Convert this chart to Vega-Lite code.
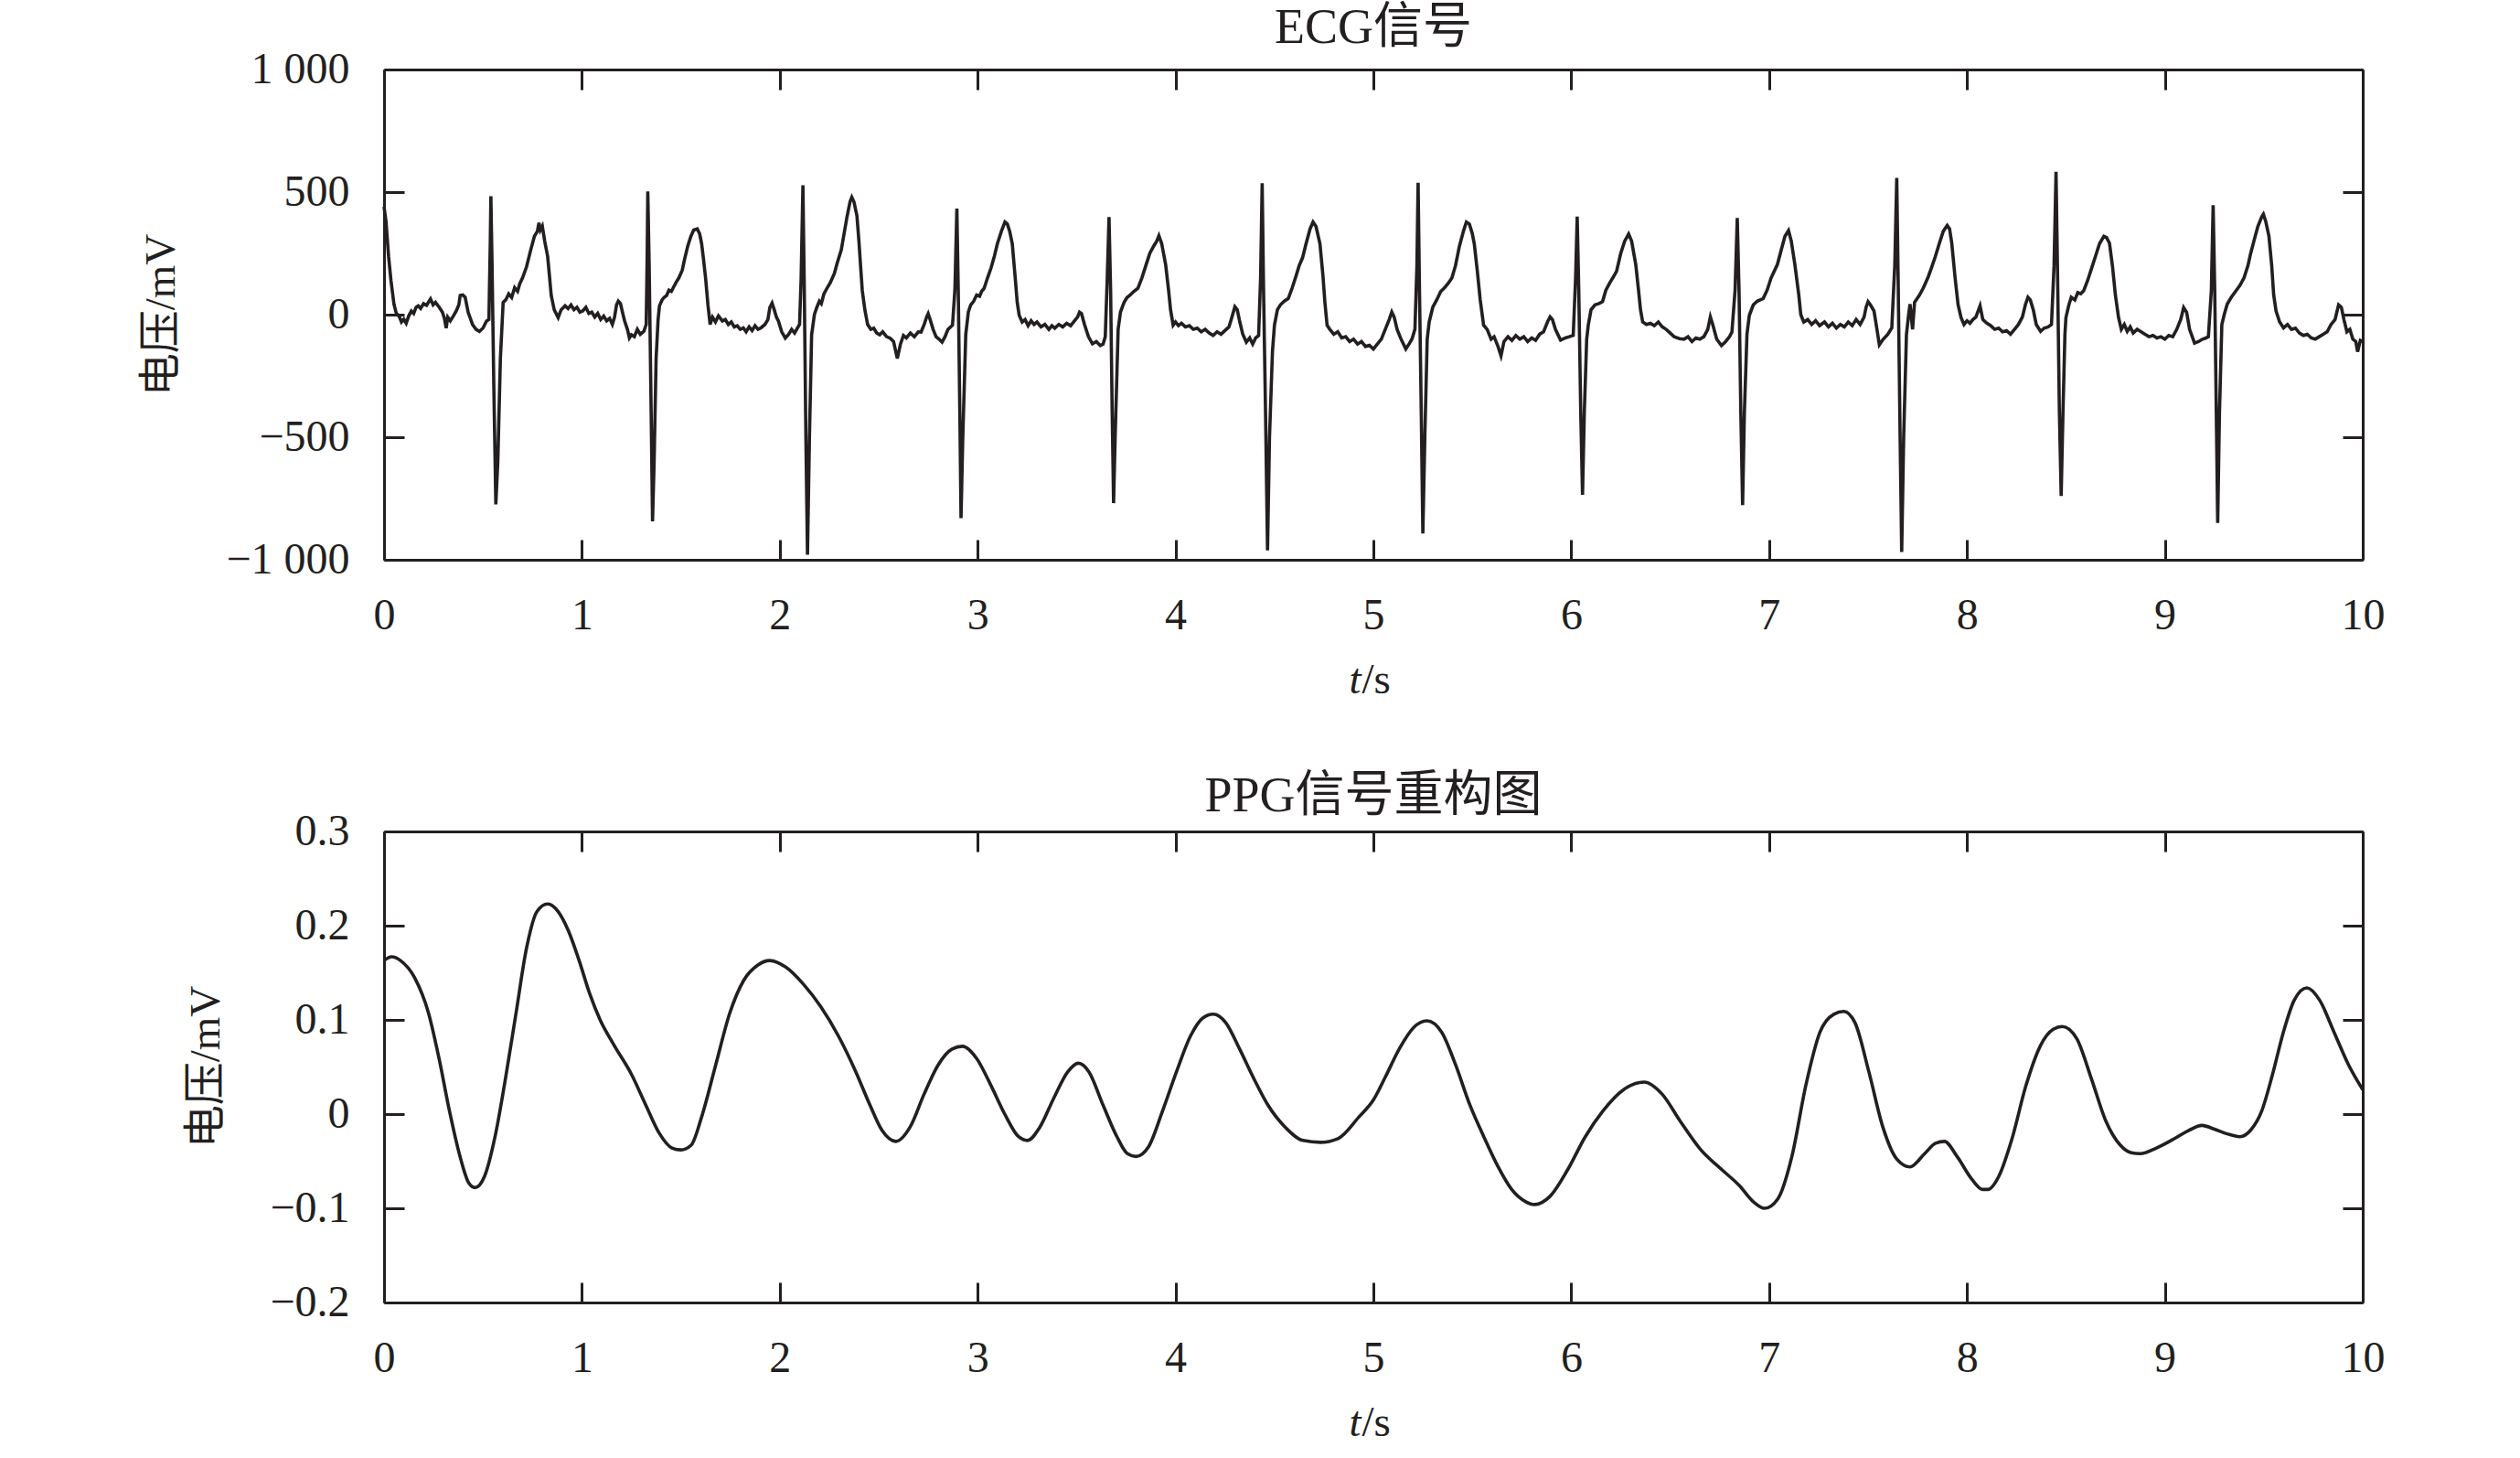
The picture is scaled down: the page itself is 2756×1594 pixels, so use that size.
{
  "$schema": "https://vega.github.io/schema/vega-lite/v6.json",
  "autosize": {"type": "none"},
  "padding": {"left": 420, "top": 76, "right": 2336, "bottom": 1518},
  "background": "white",
  "config": {
    "view": {"stroke": null},
    "axis": {
      "labelFont": "Liberation Serif, Noto Sans CJK SC",
      "titleFont": "Liberation Serif, Noto Sans CJK SC",
      "labelFontSize": 48,
      "titleFontSize": 47,
      "titleFontWeight": "normal",
      "labelColor": "#231f20",
      "titleColor": "#231f20",
      "domainColor": "#231f20",
      "domainWidth": 3,
      "tickColor": "#231f20",
      "tickWidth": 3,
      "grid": false,
      "labelFlush": false,
      "labelOverlap": false
    },
    "title": {
      "font": "Liberation Serif, Noto Sans CJK SC",
      "fontSize": 54,
      "fontWeight": "normal",
      "color": "#231f20",
      "anchor": "middle",
      "baseline": "alphabetic"
    }
  },
  "datasets": {
    "ecg": [
      {"t":0.000,"v":440},{"t":0.010,"v":380},{"t":0.023,"v":237},{"t":0.035,"v":140},{"t":0.050,"v":43},{"t":0.062,"v":5},{"t":0.076,"v":-6},{"t":0.088,"v":-30},{"t":0.100,"v":-18},{"t":0.112,"v":-35},{"t":0.125,"v":-5},{"t":0.138,"v":15},{"t":0.150,"v":5},{"t":0.162,"v":30},{"t":0.173,"v":36},{"t":0.185,"v":25},{"t":0.200,"v":45},{"t":0.215,"v":38},{"t":0.228,"v":55},{"t":0.235,"v":64},{"t":0.248,"v":40},{"t":0.260,"v":50},{"t":0.280,"v":29},{"t":0.295,"v":10},{"t":0.305,"v":-15},{"t":0.314,"v":-55},{"t":0.322,"v":-10},{"t":0.335,"v":-25},{"t":0.350,"v":-6},{"t":0.365,"v":15},{"t":0.378,"v":40},{"t":0.385,"v":78},{"t":0.398,"v":80},{"t":0.410,"v":71},{"t":0.425,"v":10},{"t":0.447,"v":-40},{"t":0.465,"v":-60},{"t":0.482,"v":-68},{"t":0.500,"v":-55},{"t":0.518,"v":-26},{"t":0.530,"v":-20},{"t":0.537,"v":300},{"t":0.540,"v":483},{"t":0.546,"v":200},{"t":0.555,"v":-300},{"t":0.565,"v":-774},{"t":0.575,"v":-600},{"t":0.588,"v":-179},{"t":0.602,"v":50},{"t":0.615,"v":60},{"t":0.630,"v":85},{"t":0.645,"v":70},{"t":0.660,"v":110},{"t":0.675,"v":95},{"t":0.686,"v":126},{"t":0.700,"v":150},{"t":0.720,"v":195},{"t":0.740,"v":260},{"t":0.760,"v":320},{"t":0.775,"v":340},{"t":0.783,"v":375},{"t":0.790,"v":345},{"t":0.800,"v":361},{"t":0.812,"v":300},{"t":0.827,"v":237},{"t":0.837,"v":150},{"t":0.845,"v":78},{"t":0.860,"v":20},{"t":0.880,"v":-12},{"t":0.895,"v":20},{"t":0.915,"v":36},{"t":0.930,"v":25},{"t":0.945,"v":40},{"t":0.960,"v":20},{"t":0.975,"v":30},{"t":0.990,"v":10},{"t":1.004,"v":15},{"t":1.020,"v":30},{"t":1.035,"v":5},{"t":1.050,"v":10},{"t":1.065,"v":-10},{"t":1.080,"v":5},{"t":1.095,"v":-20},{"t":1.110,"v":-6},{"t":1.125,"v":-25},{"t":1.140,"v":-15},{"t":1.154,"v":-40},{"t":1.165,"v":-10},{"t":1.175,"v":40},{"t":1.184,"v":55},{"t":1.195,"v":45},{"t":1.205,"v":10},{"t":1.216,"v":-26},{"t":1.230,"v":-60},{"t":1.240,"v":-95},{"t":1.250,"v":-82},{"t":1.265,"v":-90},{"t":1.280,"v":-60},{"t":1.295,"v":-80},{"t":1.313,"v":-68},{"t":1.325,"v":-40},{"t":1.330,"v":250},{"t":1.333,"v":503},{"t":1.340,"v":200},{"t":1.350,"v":-400},{"t":1.357,"v":-843},{"t":1.365,"v":-600},{"t":1.375,"v":-179},{"t":1.385,"v":-20},{"t":1.392,"v":36},{"t":1.405,"v":60},{"t":1.415,"v":70},{"t":1.428,"v":78},{"t":1.440,"v":100},{"t":1.452,"v":95},{"t":1.463,"v":112},{"t":1.475,"v":130},{"t":1.490,"v":150},{"t":1.507,"v":181},{"t":1.520,"v":230},{"t":1.535,"v":280},{"t":1.551,"v":320},{"t":1.565,"v":345},{"t":1.583,"v":350},{"t":1.595,"v":330},{"t":1.605,"v":290},{"t":1.613,"v":237},{"t":1.625,"v":150},{"t":1.637,"v":40},{"t":1.648,"v":-40},{"t":1.660,"v":-10},{"t":1.675,"v":-30},{"t":1.690,"v":-5},{"t":1.710,"v":-26},{"t":1.725,"v":-20},{"t":1.740,"v":-40},{"t":1.755,"v":-30},{"t":1.770,"v":-50},{"t":1.785,"v":-45},{"t":1.800,"v":-60},{"t":1.816,"v":-54},{"t":1.830,"v":-70},{"t":1.845,"v":-50},{"t":1.860,"v":-65},{"t":1.875,"v":-45},{"t":1.890,"v":-60},{"t":1.905,"v":-54},{"t":1.925,"v":-40},{"t":1.940,"v":-20},{"t":1.950,"v":30},{"t":1.961,"v":47},{"t":1.972,"v":20},{"t":1.983,"v":-10},{"t":1.993,"v":-26},{"t":2.010,"v":-70},{"t":2.028,"v":-96},{"t":2.045,"v":-80},{"t":2.060,"v":-60},{"t":2.075,"v":-75},{"t":2.090,"v":-54},{"t":2.100,"v":-40},{"t":2.108,"v":150},{"t":2.117,"v":528},{"t":2.124,"v":100},{"t":2.132,"v":-500},{"t":2.140,"v":-979},{"t":2.150,"v":-500},{"t":2.161,"v":-82},{"t":2.175,"v":0},{"t":2.187,"v":29},{"t":2.200,"v":55},{"t":2.210,"v":45},{"t":2.223,"v":84},{"t":2.240,"v":110},{"t":2.255,"v":130},{"t":2.276,"v":168},{"t":2.290,"v":210},{"t":2.311,"v":265},{"t":2.325,"v":330},{"t":2.340,"v":400},{"t":2.355,"v":460},{"t":2.364,"v":479},{"t":2.375,"v":460},{"t":2.390,"v":403},{"t":2.400,"v":300},{"t":2.410,"v":180},{"t":2.417,"v":98},{"t":2.430,"v":20},{"t":2.444,"v":-40},{"t":2.460,"v":-60},{"t":2.475,"v":-55},{"t":2.490,"v":-75},{"t":2.505,"v":-82},{"t":2.520,"v":-70},{"t":2.540,"v":-90},{"t":2.558,"v":-96},{"t":2.575,"v":-110},{"t":2.594,"v":-179},{"t":2.610,"v":-120},{"t":2.625,"v":-85},{"t":2.640,"v":-95},{"t":2.660,"v":-75},{"t":2.680,"v":-90},{"t":2.700,"v":-70},{"t":2.714,"v":-71},{"t":2.730,"v":-40},{"t":2.742,"v":-10},{"t":2.750,"v":4},{"t":2.760,"v":-20},{"t":2.775,"v":-60},{"t":2.790,"v":-90},{"t":2.805,"v":-100},{"t":2.820,"v":-112},{"t":2.835,"v":-90},{"t":2.850,"v":-60},{"t":2.873,"v":-43},{"t":2.885,"v":100},{"t":2.895,"v":433},{"t":2.902,"v":100},{"t":2.910,"v":-400},{"t":2.916,"v":-830},{"t":2.925,"v":-500},{"t":2.940,"v":-80},{"t":2.953,"v":11},{"t":2.965,"v":40},{"t":2.980,"v":55},{"t":2.995,"v":80},{"t":3.010,"v":75},{"t":3.020,"v":95},{"t":3.033,"v":108},{"t":3.050,"v":150},{"t":3.068,"v":191},{"t":3.085,"v":240},{"t":3.100,"v":290},{"t":3.120,"v":340},{"t":3.138,"v":378},{"t":3.150,"v":370},{"t":3.162,"v":340},{"t":3.175,"v":289},{"t":3.190,"v":150},{"t":3.200,"v":50},{"t":3.210,"v":-3},{"t":3.225,"v":-30},{"t":3.240,"v":-20},{"t":3.255,"v":-45},{"t":3.270,"v":-25},{"t":3.285,"v":-40},{"t":3.300,"v":-30},{"t":3.320,"v":-50},{"t":3.340,"v":-40},{"t":3.360,"v":-60},{"t":3.375,"v":-45},{"t":3.390,"v":-55},{"t":3.410,"v":-40},{"t":3.430,"v":-50},{"t":3.450,"v":-35},{"t":3.470,"v":-45},{"t":3.490,"v":-25},{"t":3.505,"v":-10},{"t":3.515,"v":10},{"t":3.525,"v":4},{"t":3.540,"v":-40},{"t":3.560,"v":-90},{"t":3.580,"v":-119},{"t":3.600,"v":-110},{"t":3.620,"v":-126},{"t":3.634,"v":-120},{"t":3.645,"v":-90},{"t":3.655,"v":150},{"t":3.664,"v":398},{"t":3.672,"v":100},{"t":3.680,"v":-400},{"t":3.687,"v":-769},{"t":3.695,"v":-500},{"t":3.710,"v":-60},{"t":3.722,"v":11},{"t":3.740,"v":50},{"t":3.755,"v":70},{"t":3.770,"v":80},{"t":3.790,"v":95},{"t":3.810,"v":108},{"t":3.830,"v":150},{"t":3.850,"v":200},{"t":3.870,"v":250},{"t":3.890,"v":280},{"t":3.905,"v":300},{"t":3.916,"v":322},{"t":3.930,"v":290},{"t":3.950,"v":205},{"t":3.965,"v":100},{"t":3.975,"v":20},{"t":3.988,"v":-43},{"t":4.000,"v":-30},{"t":4.015,"v":-45},{"t":4.030,"v":-35},{"t":4.050,"v":-50},{"t":4.070,"v":-45},{"t":4.090,"v":-60},{"t":4.110,"v":-55},{"t":4.130,"v":-70},{"t":4.150,"v":-60},{"t":4.170,"v":-75},{"t":4.190,"v":-85},{"t":4.210,"v":-70},{"t":4.230,"v":-80},{"t":4.250,"v":-65},{"t":4.270,"v":-50},{"t":4.285,"v":-10},{"t":4.300,"v":32},{"t":4.312,"v":20},{"t":4.325,"v":-30},{"t":4.340,"v":-80},{"t":4.358,"v":-112},{"t":4.375,"v":-95},{"t":4.390,"v":-120},{"t":4.405,"v":-95},{"t":4.420,"v":-85},{"t":4.430,"v":150},{"t":4.438,"v":536},{"t":4.445,"v":100},{"t":4.455,"v":-400},{"t":4.465,"v":-962},{"t":4.475,"v":-500},{"t":4.490,"v":-150},{"t":4.500,"v":-43},{"t":4.515,"v":20},{"t":4.530,"v":40},{"t":4.550,"v":55},{"t":4.570,"v":66},{"t":4.590,"v":110},{"t":4.610,"v":160},{"t":4.625,"v":200},{"t":4.642,"v":232},{"t":4.660,"v":290},{"t":4.680,"v":350},{"t":4.695,"v":378},{"t":4.710,"v":360},{"t":4.730,"v":289},{"t":4.745,"v":160},{"t":4.755,"v":50},{"t":4.766,"v":-43},{"t":4.780,"v":-60},{"t":4.800,"v":-80},{"t":4.820,"v":-70},{"t":4.840,"v":-95},{"t":4.860,"v":-90},{"t":4.880,"v":-110},{"t":4.900,"v":-100},{"t":4.920,"v":-120},{"t":4.940,"v":-110},{"t":4.960,"v":-130},{"t":4.980,"v":-125},{"t":5.000,"v":-140},{"t":5.020,"v":-120},{"t":5.040,"v":-100},{"t":5.060,"v":-60},{"t":5.080,"v":-20},{"t":5.093,"v":11},{"t":5.105,"v":-10},{"t":5.120,"v":-60},{"t":5.140,"v":-100},{"t":5.164,"v":-140},{"t":5.180,"v":-120},{"t":5.195,"v":-100},{"t":5.210,"v":-60},{"t":5.220,"v":200},{"t":5.226,"v":538},{"t":5.233,"v":100},{"t":5.242,"v":-400},{"t":5.250,"v":-893},{"t":5.260,"v":-500},{"t":5.272,"v":-100},{"t":5.282,"v":-30},{"t":5.300,"v":30},{"t":5.320,"v":60},{"t":5.340,"v":94},{"t":5.360,"v":110},{"t":5.380,"v":130},{"t":5.397,"v":150},{"t":5.415,"v":200},{"t":5.435,"v":280},{"t":5.455,"v":340},{"t":5.470,"v":378},{"t":5.485,"v":370},{"t":5.500,"v":330},{"t":5.510,"v":289},{"t":5.525,"v":180},{"t":5.540,"v":60},{"t":5.557,"v":-43},{"t":5.575,"v":-60},{"t":5.595,"v":-100},{"t":5.610,"v":-90},{"t":5.630,"v":-130},{"t":5.645,"v":-168},{"t":5.660,"v":-110},{"t":5.680,"v":-90},{"t":5.700,"v":-105},{"t":5.720,"v":-85},{"t":5.740,"v":-100},{"t":5.760,"v":-90},{"t":5.780,"v":-110},{"t":5.800,"v":-95},{"t":5.820,"v":-105},{"t":5.840,"v":-80},{"t":5.860,"v":-70},{"t":5.880,"v":-30},{"t":5.893,"v":-9},{"t":5.905,"v":-20},{"t":5.920,"v":-60},{"t":5.946,"v":-104},{"t":5.970,"v":-95},{"t":5.990,"v":-90},{"t":6.010,"v":-85},{"t":6.022,"v":150},{"t":6.030,"v":400},{"t":6.038,"v":100},{"t":6.048,"v":-400},{"t":6.057,"v":-735},{"t":6.066,"v":-400},{"t":6.078,"v":-100},{"t":6.086,"v":-43},{"t":6.100,"v":20},{"t":6.120,"v":40},{"t":6.140,"v":45},{"t":6.158,"v":53},{"t":6.175,"v":100},{"t":6.195,"v":130},{"t":6.210,"v":150},{"t":6.229,"v":177},{"t":6.250,"v":250},{"t":6.270,"v":300},{"t":6.290,"v":329},{"t":6.305,"v":300},{"t":6.326,"v":205},{"t":6.340,"v":100},{"t":6.350,"v":20},{"t":6.361,"v":-30},{"t":6.380,"v":-40},{"t":6.400,"v":-35},{"t":6.420,"v":-45},{"t":6.440,"v":-30},{"t":6.460,"v":-50},{"t":6.480,"v":-60},{"t":6.500,"v":-75},{"t":6.520,"v":-90},{"t":6.547,"v":-98},{"t":6.570,"v":-100},{"t":6.590,"v":-90},{"t":6.610,"v":-110},{"t":6.630,"v":-95},{"t":6.650,"v":-100},{"t":6.670,"v":-90},{"t":6.690,"v":-60},{"t":6.703,"v":-9},{"t":6.715,"v":-40},{"t":6.735,"v":-100},{"t":6.759,"v":-126},{"t":6.780,"v":-110},{"t":6.800,"v":-90},{"t":6.812,"v":-71},{"t":6.828,"v":100},{"t":6.839,"v":394},{"t":6.848,"v":100},{"t":6.857,"v":-400},{"t":6.866,"v":-777},{"t":6.875,"v":-400},{"t":6.888,"v":-80},{"t":6.900,"v":-3},{"t":6.920,"v":40},{"t":6.940,"v":55},{"t":6.970,"v":66},{"t":6.990,"v":100},{"t":7.010,"v":150},{"t":7.042,"v":205},{"t":7.060,"v":260},{"t":7.080,"v":320},{"t":7.098,"v":343},{"t":7.112,"v":300},{"t":7.130,"v":205},{"t":7.150,"v":80},{"t":7.160,"v":0},{"t":7.175,"v":-30},{"t":7.195,"v":-20},{"t":7.215,"v":-40},{"t":7.235,"v":-25},{"t":7.255,"v":-45},{"t":7.280,"v":-30},{"t":7.300,"v":-50},{"t":7.320,"v":-35},{"t":7.340,"v":-55},{"t":7.360,"v":-40},{"t":7.380,"v":-50},{"t":7.400,"v":-30},{"t":7.420,"v":-45},{"t":7.440,"v":-20},{"t":7.460,"v":-40},{"t":7.480,"v":-10},{"t":7.490,"v":30},{"t":7.500,"v":53},{"t":7.512,"v":40},{"t":7.530,"v":15},{"t":7.545,"v":-60},{"t":7.557,"v":-123},{"t":7.575,"v":-102},{"t":7.600,"v":-80},{"t":7.620,"v":-54},{"t":7.635,"v":200},{"t":7.645,"v":558},{"t":7.652,"v":150},{"t":7.662,"v":-500},{"t":7.670,"v":-968},{"t":7.680,"v":-500},{"t":7.694,"v":-82},{"t":7.705,"v":0},{"t":7.712,"v":43},{"t":7.725,"v":-60},{"t":7.735,"v":50},{"t":7.760,"v":80},{"t":7.780,"v":110},{"t":7.804,"v":154},{"t":7.820,"v":190},{"t":7.840,"v":237},{"t":7.860,"v":290},{"t":7.880,"v":340},{"t":7.900,"v":364},{"t":7.912,"v":350},{"t":7.923,"v":292},{"t":7.940,"v":150},{"t":7.955,"v":40},{"t":7.970,"v":-12},{"t":7.985,"v":-40},{"t":8.000,"v":-25},{"t":8.015,"v":-35},{"t":8.030,"v":-20},{"t":8.045,"v":-10},{"t":8.066,"v":36},{"t":8.080,"v":-20},{"t":8.100,"v":-35},{"t":8.120,"v":-45},{"t":8.140,"v":-60},{"t":8.160,"v":-55},{"t":8.180,"v":-70},{"t":8.200,"v":-65},{"t":8.220,"v":-80},{"t":8.240,"v":-60},{"t":8.260,"v":-40},{"t":8.280,"v":-10},{"t":8.295,"v":40},{"t":8.308,"v":71},{"t":8.320,"v":60},{"t":8.335,"v":20},{"t":8.350,"v":-40},{"t":8.372,"v":-68},{"t":8.390,"v":-55},{"t":8.410,"v":-50},{"t":8.427,"v":-40},{"t":8.440,"v":200},{"t":8.450,"v":583},{"t":8.458,"v":150},{"t":8.467,"v":-400},{"t":8.476,"v":-740},{"t":8.485,"v":-400},{"t":8.495,"v":-80},{"t":8.500,"v":-12},{"t":8.515,"v":40},{"t":8.527,"v":71},{"t":8.545,"v":60},{"t":8.560,"v":90},{"t":8.575,"v":85},{"t":8.590,"v":98},{"t":8.610,"v":140},{"t":8.630,"v":190},{"t":8.650,"v":240},{"t":8.670,"v":290},{"t":8.692,"v":320},{"t":8.705,"v":315},{"t":8.720,"v":292},{"t":8.735,"v":200},{"t":8.750,"v":80},{"t":8.766,"v":-12},{"t":8.780,"v":-60},{"t":8.795,"v":-40},{"t":8.810,"v":-68},{"t":8.825,"v":-50},{"t":8.840,"v":-75},{"t":8.860,"v":-60},{"t":8.880,"v":-70},{"t":8.900,"v":-80},{"t":8.920,"v":-90},{"t":8.940,"v":-85},{"t":8.960,"v":-95},{"t":8.980,"v":-90},{"t":9.000,"v":-100},{"t":9.020,"v":-85},{"t":9.040,"v":-90},{"t":9.060,"v":-60},{"t":9.080,"v":-20},{"t":9.095,"v":29},{"t":9.110,"v":10},{"t":9.125,"v":-60},{"t":9.150,"v":-116},{"t":9.170,"v":-110},{"t":9.190,"v":-100},{"t":9.205,"v":-96},{"t":9.220,"v":-90},{"t":9.235,"v":100},{"t":9.244,"v":447},{"t":9.252,"v":100},{"t":9.260,"v":-400},{"t":9.267,"v":-850},{"t":9.276,"v":-400},{"t":9.288,"v":-40},{"t":9.300,"v":0},{"t":9.315,"v":43},{"t":9.335,"v":70},{"t":9.360,"v":98},{"t":9.380,"v":120},{"t":9.400,"v":150},{"t":9.420,"v":200},{"t":9.434,"v":251},{"t":9.450,"v":300},{"t":9.470,"v":360},{"t":9.490,"v":400},{"t":9.498,"v":410},{"t":9.510,"v":380},{"t":9.526,"v":320},{"t":9.540,"v":200},{"t":9.550,"v":80},{"t":9.562,"v":15},{"t":9.580,"v":-30},{"t":9.600,"v":-54},{"t":9.620,"v":-40},{"t":9.640,"v":-60},{"t":9.660,"v":-55},{"t":9.680,"v":-75},{"t":9.700,"v":-85},{"t":9.720,"v":-80},{"t":9.740,"v":-95},{"t":9.760,"v":-100},{"t":9.780,"v":-90},{"t":9.800,"v":-80},{"t":9.820,"v":-70},{"t":9.840,"v":-40},{"t":9.860,"v":-20},{"t":9.878,"v":40},{"t":9.892,"v":30},{"t":9.905,"v":-20},{"t":9.920,"v":-70},{"t":9.935,"v":-60},{"t":9.950,"v":-100},{"t":9.965,"v":-110},{"t":9.974,"v":-151},{"t":9.988,"v":-105},{"t":10.000,"v":-110}
    ],
    "ppg": [
      {"t":0.000,"v":0.163},{"t":0.039,"v":0.167},{"t":0.083,"v":0.163},{"t":0.154,"v":0.145},{"t":0.225,"v":0.107},{"t":0.278,"v":0.059},{"t":0.331,"v":0.003},{"t":0.384,"v":-0.045},{"t":0.428,"v":-0.073},{"t":0.460,"v":-0.078},{"t":0.508,"v":-0.066},{"t":0.561,"v":-0.024},{"t":0.614,"v":0.038},{"t":0.667,"v":0.107},{"t":0.720,"v":0.176},{"t":0.773,"v":0.215},{"t":0.827,"v":0.223},{"t":0.880,"v":0.215},{"t":0.933,"v":0.194},{"t":0.986,"v":0.163},{"t":1.039,"v":0.128},{"t":1.092,"v":0.100},{"t":1.163,"v":0.073},{"t":1.251,"v":0.042},{"t":1.322,"v":0.010},{"t":1.393,"v":-0.021},{"t":1.455,"v":-0.036},{"t":1.500,"v":-0.038},{"t":1.552,"v":-0.033},{"t":1.605,"v":-0.003},{"t":1.676,"v":0.052},{"t":1.747,"v":0.107},{"t":1.818,"v":0.142},{"t":1.888,"v":0.158},{"t":1.950,"v":0.163},{"t":2.030,"v":0.156},{"t":2.119,"v":0.138},{"t":2.207,"v":0.114},{"t":2.296,"v":0.083},{"t":2.384,"v":0.045},{"t":2.455,"v":0.010},{"t":2.516,"v":-0.017},{"t":2.587,"v":-0.029},{"t":2.658,"v":-0.014},{"t":2.729,"v":0.021},{"t":2.800,"v":0.052},{"t":2.871,"v":0.069},{"t":2.924,"v":0.072},{"t":2.995,"v":0.059},{"t":3.066,"v":0.031},{"t":3.137,"v":0.000},{"t":3.207,"v":-0.024},{"t":3.252,"v":-0.028},{"t":3.314,"v":-0.014},{"t":3.385,"v":0.017},{"t":3.456,"v":0.045},{"t":3.509,"v":0.054},{"t":3.562,"v":0.045},{"t":3.633,"v":0.010},{"t":3.704,"v":-0.024},{"t":3.757,"v":-0.042},{"t":3.801,"v":-0.045},{"t":3.863,"v":-0.035},{"t":3.934,"v":0.003},{"t":4.005,"v":0.045},{"t":4.076,"v":0.083},{"t":4.138,"v":0.102},{"t":4.191,"v":0.106},{"t":4.254,"v":0.097},{"t":4.324,"v":0.069},{"t":4.395,"v":0.038},{"t":4.466,"v":0.010},{"t":4.555,"v":-0.014},{"t":4.644,"v":-0.028},{"t":4.732,"v":-0.030},{"t":4.821,"v":-0.026},{"t":4.927,"v":-0.003},{"t":5.000,"v":0.015},{"t":5.062,"v":0.040},{"t":5.133,"v":0.070},{"t":5.204,"v":0.092},{"t":5.270,"v":0.099},{"t":5.345,"v":0.087},{"t":5.416,"v":0.052},{"t":5.487,"v":0.010},{"t":5.558,"v":-0.024},{"t":5.628,"v":-0.055},{"t":5.699,"v":-0.080},{"t":5.770,"v":-0.093},{"t":5.814,"v":-0.096},{"t":5.894,"v":-0.087},{"t":5.982,"v":-0.059},{"t":6.071,"v":-0.024},{"t":6.159,"v":0.003},{"t":6.265,"v":0.026},{"t":6.368,"v":0.034},{"t":6.460,"v":0.021},{"t":6.549,"v":-0.007},{"t":6.655,"v":-0.038},{"t":6.761,"v":-0.059},{"t":6.850,"v":-0.076},{"t":6.920,"v":-0.093},{"t":6.977,"v":-0.100},{"t":7.044,"v":-0.090},{"t":7.115,"v":-0.045},{"t":7.186,"v":0.031},{"t":7.257,"v":0.087},{"t":7.327,"v":0.106},{"t":7.377,"v":0.109},{"t":7.434,"v":0.097},{"t":7.504,"v":0.045},{"t":7.575,"v":-0.014},{"t":7.646,"v":-0.048},{"t":7.712,"v":-0.056},{"t":7.786,"v":-0.042},{"t":7.841,"v":-0.031},{"t":7.886,"v":-0.029},{"t":7.950,"v":-0.045},{"t":8.024,"v":-0.069},{"t":8.079,"v":-0.080},{"t":8.106,"v":-0.080},{"t":8.161,"v":-0.066},{"t":8.225,"v":-0.028},{"t":8.299,"v":0.031},{"t":8.372,"v":0.073},{"t":8.436,"v":0.090},{"t":8.482,"v":0.093},{"t":8.555,"v":0.080},{"t":8.628,"v":0.038},{"t":8.701,"v":-0.007},{"t":8.775,"v":-0.033},{"t":8.830,"v":-0.041},{"t":8.875,"v":-0.042},{"t":8.958,"v":-0.036},{"t":9.049,"v":-0.026},{"t":9.123,"v":-0.017},{"t":9.187,"v":-0.012},{"t":9.251,"v":-0.016},{"t":9.315,"v":-0.021},{"t":9.379,"v":-0.024},{"t":9.434,"v":-0.017},{"t":9.489,"v":0.003},{"t":9.544,"v":0.042},{"t":9.599,"v":0.087},{"t":9.654,"v":0.121},{"t":9.718,"v":0.134},{"t":9.782,"v":0.121},{"t":9.855,"v":0.087},{"t":9.929,"v":0.052},{"t":10.000,"v":0.026}
    ]
  },
  "spacing": 297,
  "bounds": "flush",
  "vconcat": [
    {
      "width": 2164,
      "height": 536,
      "data": {"name": "ecg"},
      "title": {"text": "ECG信号", "offset": -6},
      "resolve": {"axis": {"x": "independent", "y": "independent"}},
      "layer": [
        {
          "mark": {"type": "line", "color": "#231f20", "strokeWidth": 3.6},
          "encoding": {
            "x": {"field": "t", "type": "quantitative",
                  "scale": {"domain": [0, 10], "nice": false, "zero": false},
                  "axis": {"orient": "bottom", "values": [0,1,2,3,4,5,6,7,8,9,10], "format": "d", "ticks": false,
                           "labelPadding": 75, "labelBaseline": "alphabetic",
                           "title": "t", "titleFontStyle": "italic", "titleAlign": "right", "titleX": 1068, "titleY": 145, "titleBaseline": "alphabetic"}},
            "y": {"field": "v", "type": "quantitative",
                  "scale": {"domain": [-1000, 1000], "nice": false},
                  "axis": {"orient": "left", "values": [-1000,-500,0,500,1000], "ticks": false, "labelPadding": 38,
                           "labelExpr": "datum.value == 1000 ? '1 000' : datum.value == -1000 ? '−1 000' : datum.value < 0 ? '−' + abs(datum.value) : '' + datum.value",
                           "title": "电压/mV", "titleAngle": -90, "titleX": -244, "titleY": 268, "titleAlign": "center", "titleBaseline": "middle"}}
          }
        },
        {
          "mark": {"type": "line", "opacity": 0},
          "encoding": {
            "x": {"field": "t", "type": "quantitative",
                  "scale": {"domain": [0, 10], "nice": false, "zero": false},
                  "axis": {"orient": "bottom", "values": [0,1,2,3,4,5,6,7,8,9,10], "labels": false, "domain": false, "tickSize": -22,
                           "title": "/s", "titleAlign": "left", "titleX": 1069, "titleY": 145, "titleBaseline": "alphabetic"}},
            "y": {"field": "v", "type": "quantitative",
                  "scale": {"domain": [-1000, 1000], "nice": false},
                  "axis": {"orient": "left", "values": [-1000,-500,0,500,1000], "labels": false, "domain": false, "tickSize": -22, "title": null}}
          }
        },
        {
          "mark": {"type": "line", "opacity": 0},
          "encoding": {
            "x": {"field": "t", "type": "quantitative",
                  "scale": {"domain": [0, 10], "nice": false, "zero": false},
                  "axis": {"orient": "top", "values": [0,1,2,3,4,5,6,7,8,9,10], "labels": false, "tickSize": -22, "title": null}},
            "y": {"field": "v", "type": "quantitative",
                  "scale": {"domain": [-1000, 1000], "nice": false},
                  "axis": {"orient": "right", "values": [-1000,-500,0,500,1000], "labels": false, "tickSize": -22, "title": null}}
          }
        }
      ]
    },
    {
      "width": 2164,
      "height": 515,
      "data": {"name": "ppg"},
      "title": {"text": "PPG信号重构图", "offset": -13},
      "resolve": {"axis": {"x": "independent", "y": "independent"}},
      "layer": [
        {
          "mark": {"type": "line", "color": "#231f20", "strokeWidth": 3.6, "interpolate": "monotone"},
          "encoding": {
            "x": {"field": "t", "type": "quantitative",
                  "scale": {"domain": [0, 10], "nice": false, "zero": false},
                  "axis": {"orient": "bottom", "values": [0,1,2,3,4,5,6,7,8,9,10], "format": "d", "ticks": false,
                           "labelPadding": 75, "labelBaseline": "alphabetic",
                           "title": "t", "titleFontStyle": "italic", "titleAlign": "right", "titleX": 1068, "titleY": 145, "titleBaseline": "alphabetic"}},
            "y": {"field": "v", "type": "quantitative",
                  "scale": {"domain": [-0.2, 0.3], "nice": false, "zero": false},
                  "axis": {"orient": "left", "values": [-0.2,-0.1,0,0.1,0.2,0.3], "ticks": false, "labelPadding": 38,
                           "labelExpr": "datum.value == 0 ? '0' : datum.value < 0 ? '−' + format(abs(datum.value), '.1f') : format(datum.value, '.1f')",
                           "title": "电压/mV", "titleAngle": -90, "titleX": -195, "titleY": 257, "titleAlign": "center", "titleBaseline": "middle"}}
          }
        },
        {
          "mark": {"type": "line", "opacity": 0},
          "encoding": {
            "x": {"field": "t", "type": "quantitative",
                  "scale": {"domain": [0, 10], "nice": false, "zero": false},
                  "axis": {"orient": "bottom", "values": [0,1,2,3,4,5,6,7,8,9,10], "labels": false, "domain": false, "tickSize": -22,
                           "title": "/s", "titleAlign": "left", "titleX": 1069, "titleY": 145, "titleBaseline": "alphabetic"}},
            "y": {"field": "v", "type": "quantitative",
                  "scale": {"domain": [-0.2, 0.3], "nice": false, "zero": false},
                  "axis": {"orient": "left", "values": [-0.2,-0.1,0,0.1,0.2,0.3], "labels": false, "domain": false, "tickSize": -22, "title": null}}
          }
        },
        {
          "mark": {"type": "line", "opacity": 0},
          "encoding": {
            "x": {"field": "t", "type": "quantitative",
                  "scale": {"domain": [0, 10], "nice": false, "zero": false},
                  "axis": {"orient": "top", "values": [0,1,2,3,4,5,6,7,8,9,10], "labels": false, "tickSize": -22, "title": null}},
            "y": {"field": "v", "type": "quantitative",
                  "scale": {"domain": [-0.2, 0.3], "nice": false, "zero": false},
                  "axis": {"orient": "right", "values": [-0.2,-0.1,0,0.1,0.2,0.3], "labels": false, "tickSize": -22, "title": null}}
          }
        }
      ]
    }
  ]
}
